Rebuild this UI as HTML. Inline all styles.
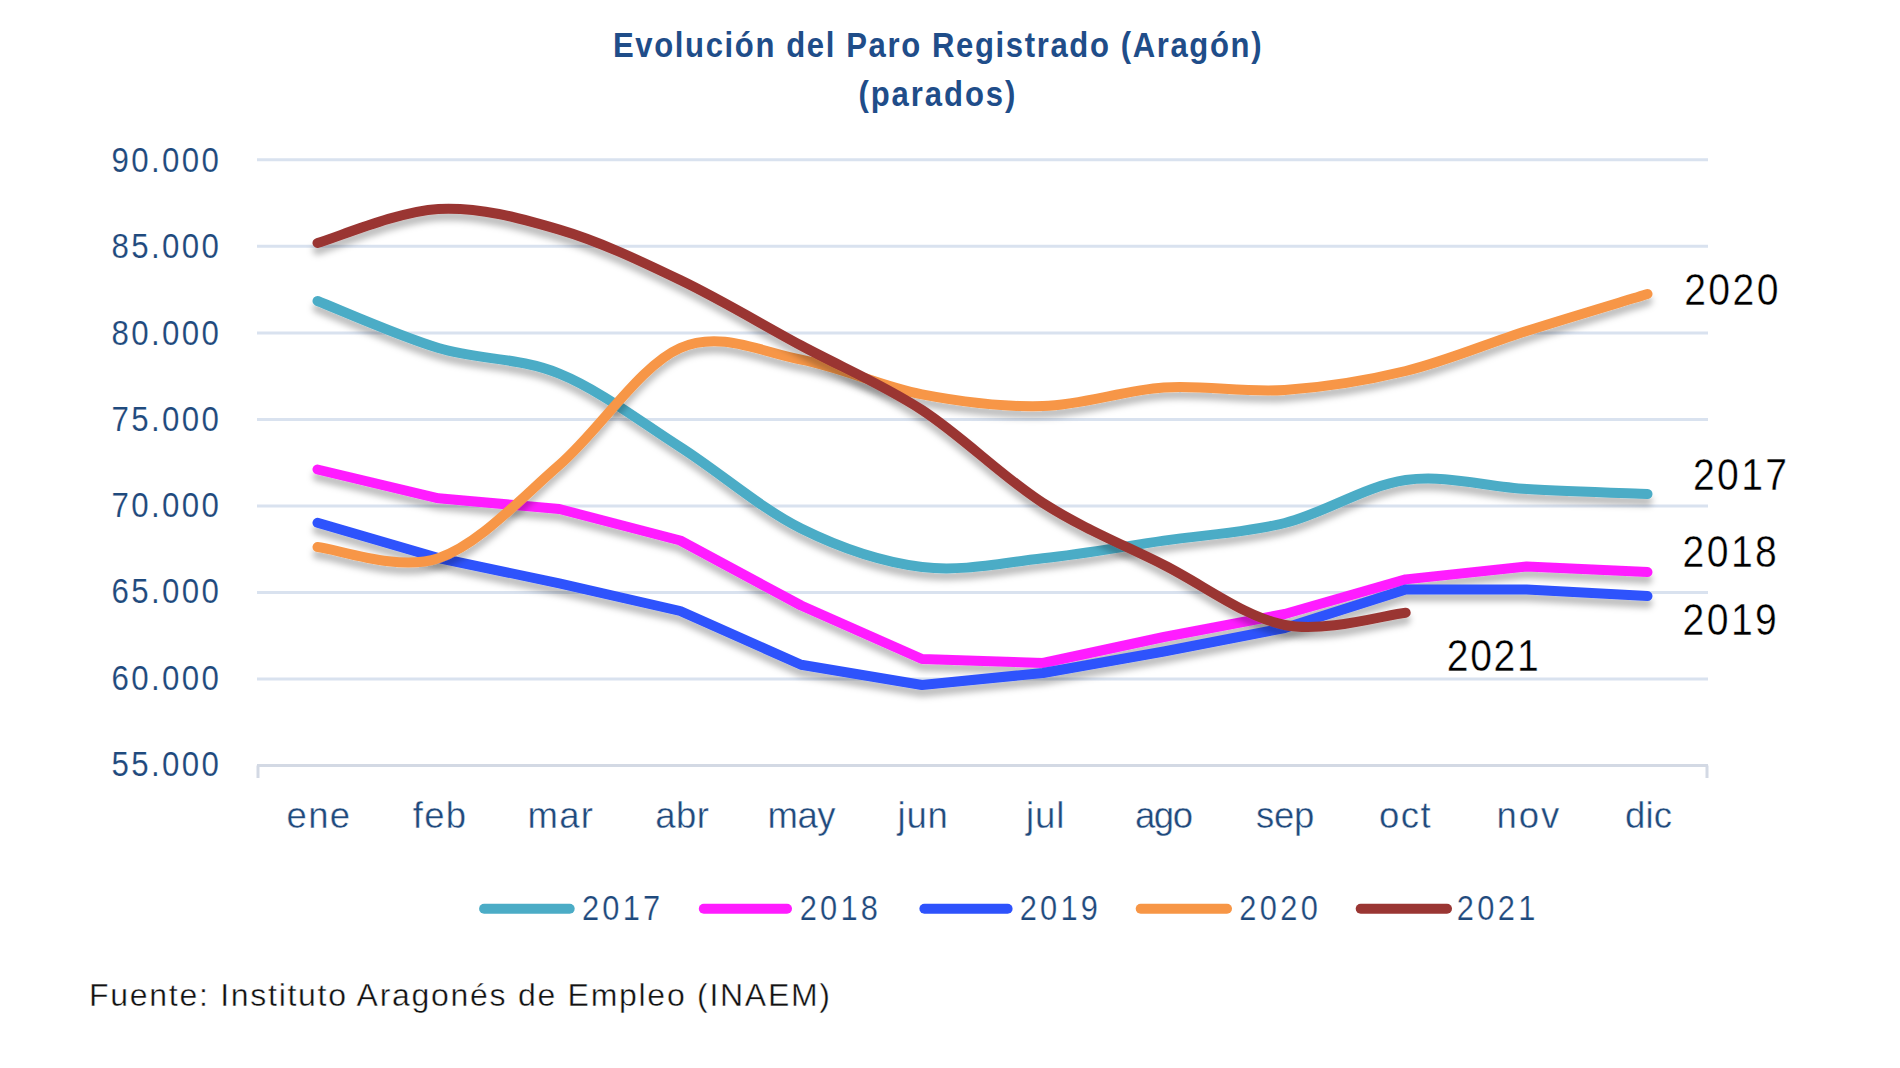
<!DOCTYPE html>
<html><head><meta charset="utf-8"><style>
html,body{margin:0;padding:0;background:#fff;width:1900px;height:1068px;overflow:hidden}
svg{display:block;font-family:"Liberation Sans",sans-serif}
</style></head><body>
<svg width="1900" height="1068" viewBox="0 0 1900 1068">
<defs><filter id="sh" x="-10%" y="-20%" width="120%" height="140%"><feDropShadow dx="0" dy="7" stdDeviation="3.2" flood-color="#000" flood-opacity="0.26"/></filter></defs>
<rect width="1900" height="1068" fill="#fff"/>
<line x1="257.0" y1="159.8" x2="1708.0" y2="159.8" stroke="#d9e2ef" stroke-width="3"/>
<line x1="257.0" y1="246.3" x2="1708.0" y2="246.3" stroke="#d9e2ef" stroke-width="3"/>
<line x1="257.0" y1="332.9" x2="1708.0" y2="332.9" stroke="#d9e2ef" stroke-width="3"/>
<line x1="257.0" y1="419.4" x2="1708.0" y2="419.4" stroke="#d9e2ef" stroke-width="3"/>
<line x1="257.0" y1="505.9" x2="1708.0" y2="505.9" stroke="#d9e2ef" stroke-width="3"/>
<line x1="257.0" y1="592.4" x2="1708.0" y2="592.4" stroke="#d9e2ef" stroke-width="3"/>
<line x1="257.0" y1="679.0" x2="1708.0" y2="679.0" stroke="#d9e2ef" stroke-width="3"/>
<line x1="257.0" y1="765.5" x2="1708.0" y2="765.5" stroke="#d3d9e4" stroke-width="3"/>
<line x1="258.0" y1="765.5" x2="258.0" y2="778" stroke="#d3d9e4" stroke-width="3"/>
<line x1="1707.0" y1="765.5" x2="1707.0" y2="778" stroke="#d3d9e4" stroke-width="3"/>
<text transform="scale(0.88,1)" x="248.86" y="172.2" text-anchor="end" font-size="35.5" fill="#1f4a7d" stroke="#fff" stroke-width="0.15" textLength="122.16" lengthAdjust="spacing">90.000</text>
<text transform="scale(0.88,1)" x="248.86" y="258.5" text-anchor="end" font-size="35.5" fill="#1f4a7d" stroke="#fff" stroke-width="0.15" textLength="122.16" lengthAdjust="spacing">85.000</text>
<text transform="scale(0.88,1)" x="248.86" y="344.7" text-anchor="end" font-size="35.5" fill="#1f4a7d" stroke="#fff" stroke-width="0.15" textLength="122.16" lengthAdjust="spacing">80.000</text>
<text transform="scale(0.88,1)" x="248.86" y="431.0" text-anchor="end" font-size="35.5" fill="#1f4a7d" stroke="#fff" stroke-width="0.15" textLength="122.16" lengthAdjust="spacing">75.000</text>
<text transform="scale(0.88,1)" x="248.86" y="517.2" text-anchor="end" font-size="35.5" fill="#1f4a7d" stroke="#fff" stroke-width="0.15" textLength="122.16" lengthAdjust="spacing">70.000</text>
<text transform="scale(0.88,1)" x="248.86" y="603.5" text-anchor="end" font-size="35.5" fill="#1f4a7d" stroke="#fff" stroke-width="0.15" textLength="122.16" lengthAdjust="spacing">65.000</text>
<text transform="scale(0.88,1)" x="248.86" y="689.8" text-anchor="end" font-size="35.5" fill="#1f4a7d" stroke="#fff" stroke-width="0.15" textLength="122.16" lengthAdjust="spacing">60.000</text>
<text transform="scale(0.88,1)" x="248.86" y="776.0" text-anchor="end" font-size="35.5" fill="#1f4a7d" stroke="#fff" stroke-width="0.15" textLength="122.16" lengthAdjust="spacing">55.000</text>
<text transform="scale(1.0,1)" x="286.60" y="828" font-size="36.5" fill="#1f4a7d" stroke="#fff" stroke-width="0.4" textLength="63.40" lengthAdjust="spacing">ene</text>
<text transform="scale(1.0,1)" x="412.80" y="828" font-size="36.5" fill="#1f4a7d" stroke="#fff" stroke-width="0.4" textLength="53.20" lengthAdjust="spacing">feb</text>
<text transform="scale(1.0,1)" x="527.60" y="828" font-size="36.5" fill="#1f4a7d" stroke="#fff" stroke-width="0.4" textLength="65.40" lengthAdjust="spacing">mar</text>
<text transform="scale(1.0,1)" x="655.20" y="828" font-size="36.5" fill="#1f4a7d" stroke="#fff" stroke-width="0.4" textLength="53.80" lengthAdjust="spacing">abr</text>
<text transform="scale(1.0,1)" x="767.40" y="828" font-size="36.5" fill="#1f4a7d" stroke="#fff" stroke-width="0.4" textLength="68.20" lengthAdjust="spacing">may</text>
<text transform="scale(1.0,1)" x="897.60" y="828" font-size="36.5" fill="#1f4a7d" stroke="#fff" stroke-width="0.4" textLength="50.20" lengthAdjust="spacing">jun</text>
<text transform="scale(1.0,1)" x="1026.00" y="828" font-size="36.5" fill="#1f4a7d" stroke="#fff" stroke-width="0.4" textLength="38.40" lengthAdjust="spacing">jul</text>
<text transform="scale(1.0,1)" x="1135.00" y="828" font-size="36.5" fill="#1f4a7d" stroke="#fff" stroke-width="0.4" textLength="58.00" lengthAdjust="spacing">ago</text>
<text transform="scale(1.0,1)" x="1256.00" y="828" font-size="36.5" fill="#1f4a7d" stroke="#fff" stroke-width="0.4" textLength="58.40" lengthAdjust="spacing">sep</text>
<text transform="scale(1.0,1)" x="1379.00" y="828" font-size="36.5" fill="#1f4a7d" stroke="#fff" stroke-width="0.4" textLength="51.60" lengthAdjust="spacing">oct</text>
<text transform="scale(1.0,1)" x="1496.60" y="828" font-size="36.5" fill="#1f4a7d" stroke="#fff" stroke-width="0.4" textLength="62.60" lengthAdjust="spacing">nov</text>
<text transform="scale(1.0,1)" x="1625.00" y="828" font-size="36.5" fill="#1f4a7d" stroke="#fff" stroke-width="0.4" textLength="47.00" lengthAdjust="spacing">dic</text>
<path d="M317.5 301.0 C337.6 308.8 398.1 335.9 438.4 348.0 C478.7 360.1 519.0 357.1 559.3 373.6 C599.6 390.1 639.9 421.2 680.2 447.0 C720.5 472.8 760.8 508.5 801.1 528.5 C841.4 548.5 881.7 562.0 922.0 567.0 C962.3 572.0 1002.7 562.7 1043.0 558.3 C1083.3 553.9 1123.6 546.5 1163.9 540.6 C1204.2 534.7 1244.5 533.1 1284.8 523.0 C1325.1 512.9 1365.4 485.7 1405.7 480.0 C1446.0 474.3 1486.3 486.7 1526.6 489.0 C1566.9 491.3 1627.4 493.2 1647.5 494.0" fill="none" stroke="#4bacc6" stroke-width="10" stroke-linecap="round" stroke-linejoin="round" filter="url(#sh)"/>
<path d="M317.5 469.5 L438.4 498.3 L559.3 509.0 L680.2 540.5 L801.1 605.5 L922.0 659.0 L1043.0 663.0 L1163.9 637.0 L1284.8 614.0 L1405.7 579.4 L1526.6 566.5 L1647.5 572.0" fill="none" stroke="#ff1cff" stroke-width="10" stroke-linecap="round" stroke-linejoin="round" filter="url(#sh)"/>
<path d="M317.5 522.8 L438.4 558.0 L559.3 583.3 L680.2 611.0 L801.1 664.7 L922.0 685.0 L1043.0 673.0 L1163.9 651.5 L1284.8 628.0 L1405.7 589.5 L1526.6 589.6 L1647.5 596.0" fill="none" stroke="#2e52fc" stroke-width="10" stroke-linecap="round" stroke-linejoin="round" filter="url(#sh)"/>
<path d="M317.5 547.0 C337.6 548.9 398.1 571.9 438.4 558.2 C478.7 544.5 519.0 500.0 559.3 465.0 C599.6 430.0 639.9 365.6 680.2 348.0 C720.5 330.4 760.8 351.9 801.1 359.6 C841.4 367.3 881.7 386.6 922.0 394.3 C962.3 402.0 1002.7 407.1 1043.0 406.0 C1083.3 404.9 1123.6 390.2 1163.9 387.5 C1204.2 384.8 1244.5 392.8 1284.8 390.0 C1325.1 387.2 1365.4 380.8 1405.7 371.0 C1446.0 361.2 1486.3 343.8 1526.6 331.0 C1566.9 318.2 1627.4 300.2 1647.5 294.0" fill="none" stroke="#f79646" stroke-width="10" stroke-linecap="round" stroke-linejoin="round" filter="url(#sh)"/>
<path d="M317.5 243.0 C337.6 237.3 398.1 211.1 438.4 208.9 C478.7 206.7 519.0 217.8 559.3 229.6 C599.6 241.4 639.9 260.7 680.2 280.0 C720.5 299.3 760.8 323.8 801.1 345.5 C841.4 367.2 881.7 383.8 922.0 410.0 C962.3 436.2 1002.7 477.2 1043.0 503.0 C1083.3 528.8 1123.6 544.7 1163.9 565.0 C1204.2 585.3 1244.5 617.0 1284.8 625.0 C1325.1 633.0 1385.6 614.8 1405.7 612.7" fill="none" stroke="#9a3633" stroke-width="10" stroke-linecap="round" stroke-linejoin="round" filter="url(#sh)"/>
<text transform="scale(0.9,1)" x="1871.33" y="305.5" font-size="43.5" fill="#000" stroke="#fff" stroke-width="0.4" textLength="104.78" lengthAdjust="spacing">2020</text>
<text transform="scale(0.9,1)" x="1881.00" y="490.5" font-size="43.5" fill="#000" stroke="#fff" stroke-width="0.4" textLength="104.67" lengthAdjust="spacing">2017</text>
<text transform="scale(0.9,1)" x="1869.56" y="566.7" font-size="43.5" fill="#000" stroke="#fff" stroke-width="0.4" textLength="104.67" lengthAdjust="spacing">2018</text>
<text transform="scale(0.9,1)" x="1869.56" y="634.6" font-size="43.5" fill="#000" stroke="#fff" stroke-width="0.4" textLength="104.67" lengthAdjust="spacing">2019</text>
<text transform="scale(0.9,1)" x="1607.56" y="670.7" font-size="43.5" fill="#000" stroke="#fff" stroke-width="0.4" textLength="102.22" lengthAdjust="spacing">2021</text>
<line x1="484.1" y1="908.7" x2="569.7" y2="908.7" stroke="#4bacc6" stroke-width="10" stroke-linecap="round"/>
<text transform="scale(0.88,1)" x="661.36" y="920" font-size="35" fill="#1f4a7d" stroke="#fff" stroke-width="0.25" textLength="88.75" lengthAdjust="spacing">2017</text>
<line x1="703.8" y1="908.7" x2="787" y2="908.7" stroke="#ff1cff" stroke-width="10" stroke-linecap="round"/>
<text transform="scale(0.88,1)" x="908.86" y="920" font-size="35" fill="#1f4a7d" stroke="#fff" stroke-width="0.25" textLength="88.75" lengthAdjust="spacing">2018</text>
<line x1="924.4" y1="908.7" x2="1007.6" y2="908.7" stroke="#2e52fc" stroke-width="10" stroke-linecap="round"/>
<text transform="scale(0.88,1)" x="1158.86" y="920" font-size="35" fill="#1f4a7d" stroke="#fff" stroke-width="0.25" textLength="88.75" lengthAdjust="spacing">2019</text>
<line x1="1140.7" y1="908.7" x2="1227" y2="908.7" stroke="#f79646" stroke-width="10" stroke-linecap="round"/>
<text transform="scale(0.88,1)" x="1408.30" y="920" font-size="35" fill="#1f4a7d" stroke="#fff" stroke-width="0.25" textLength="89.32" lengthAdjust="spacing">2020</text>
<line x1="1360.7" y1="908.7" x2="1447" y2="908.7" stroke="#9a3633" stroke-width="10" stroke-linecap="round"/>
<text transform="scale(0.88,1)" x="1655.45" y="920" font-size="35" fill="#1f4a7d" stroke="#fff" stroke-width="0.25" textLength="89.43" lengthAdjust="spacing">2021</text>
<g transform="scale(0.9,1)"><text x="681.11" y="57.3" font-size="34.5" font-weight="bold" fill="#1f4d89" textLength="720.56" lengthAdjust="spacing">Evolución del Paro Registrado (Aragón)</text>
<text x="953.78" y="106" font-size="34.5" font-weight="bold" fill="#1f4d89" textLength="174.44" lengthAdjust="spacing">(parados)</text></g>
<text x="89" y="1006" font-size="32" fill="#111" stroke="#fff" stroke-width="0.4" textLength="741" lengthAdjust="spacing">Fuente: Instituto Aragonés de Empleo (INAEM)</text>
</svg></body></html>
